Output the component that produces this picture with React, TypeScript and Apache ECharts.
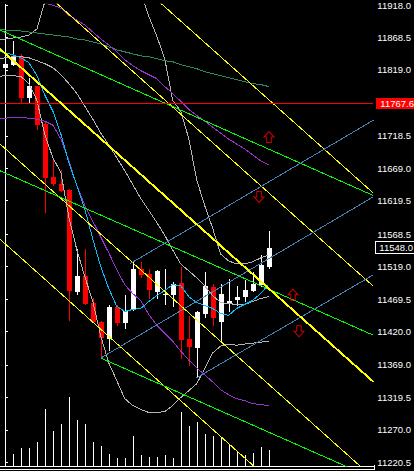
import { useEffect, useRef } from 'react';
import * as echarts from 'echarts';

// [open, close, low, high]
const candles: number[][] = [
  [11822.4, 11828.4, 11789.1, 11840.5],
  [11826.9, 11840.5, 11825.4, 11863.2],
  [11840.5, 11775.5, 11768.0, 11843.5],
  [11775.5, 11793.7, 11768.0, 11807.3],
  [11793.7, 11734.7, 11727.2, 11793.7],
  [11736.2, 11654.6, 11600.2, 11739.3],
  [11656.2, 11645.6, 11642.6, 11683.4],
  [11645.6, 11635.0, 11633.5, 11666.7],
  [11636.5, 11482.4, 11435.5, 11638.0],
  [11480.9, 11505.0, 11476.3, 11545.8],
  [11505.0, 11462.7, 11461.2, 11545.8],
  [11464.2, 11434.0, 11432.5, 11471.8],
  [11434.0, 11409.8, 11379.6, 11435.5],
  [11408.3, 11456.7, 11390.2, 11459.7],
  [11456.7, 11432.5, 11428.0, 11459.7],
  [11432.5, 11450.6, 11423.4, 11476.3],
  [11452.1, 11515.6, 11450.6, 11526.2],
  [11515.6, 11506.5, 11502.0, 11526.2],
  [11508.1, 11483.9, 11470.3, 11515.6],
  [11480.9, 11512.6, 11470.3, 11514.1],
  [11476.3, 11477.8, 11461.2, 11515.6],
  [11476.3, 11492.9, 11456.7, 11496.0],
  [11494.5, 11406.8, 11378.1, 11518.6],
  [11408.3, 11396.2, 11367.5, 11443.1],
  [11394.7, 11449.1, 11349.4, 11450.6],
  [11446.1, 11489.9, 11440.0, 11511.1],
  [11488.4, 11440.0, 11428.0, 11492.9],
  [11434.0, 11477.8, 11405.3, 11492.9],
  [11462.7, 11467.3, 11449.1, 11500.5],
  [11468.8, 11473.3, 11458.2, 11489.9],
  [11473.3, 11483.9, 11465.7, 11499.0],
  [11482.4, 11492.9, 11480.9, 11511.1],
  [11491.4, 11521.7, 11488.4, 11536.8],
  [11518.6, 11548.0, 11515.6, 11573.0],
];

const volumes = [170, 120, 180, 180, 240, 580, 350, 420, 700, 460, 420, 240, 200, 120, 80, 80, 300, 110, 90, 90, 110, 80, 540, 400, 440, 320, 300, 280, 210, 140, 110, 130, 190, 160];

// indicator curves: bar index -1 .. 33
const curveX = [-1, 0, 1, 2, 3, 4, 5, 6, 7, 8, 9, 10, 11, 12, 13, 14, 15, 16, 17, 18, 19, 20, 21, 22, 23, 24, 25, 26, 27, 28, 29, 30, 31, 32, 33];

const maFast = [11848.1, 11845.1, 11842.0, 11837.5, 11829.9, 11810.3, 11780.1, 11755.9, 11721.1, 11677.3, 11642.6, 11606.3, 11560.9, 11518.6, 11485.4, 11458.2, 11450.6, 11453.7, 11455.2, 11465.7, 11474.8, 11482.4, 11491.4, 11489.9, 11473.3, 11464.2, 11459.7, 11455.2, 11447.6, 11444.6, 11455.2, 11461.2, 11467.3, 11477.8, 11491.4];

const envLower = [11745.3, 11745.3, 11746.8, 11746.8, 11745.3, 11743.8, 11740.8, 11734.7, 11713.6, 11680.3, 11642.6, 11612.3, 11588.1, 11564.0, 11539.8, 11514.1, 11491.4, 11477.8, 11467.3, 11446.1, 11429.5, 11417.4, 11405.3, 11390.2, 11376.6, 11364.5, 11353.9, 11343.3, 11331.2, 11323.7, 11317.6, 11314.6, 11310.1, 11308.6, 11307.1];

const envUpper = [11956.9, 11946.3, 11938.7, 11932.7, 11926.7, 11923.6, 11920.6, 11917.6, 11913.1, 11902.5, 11894.9, 11887.4, 11876.8, 11866.2, 11857.1, 11846.6, 11834.5, 11825.4, 11817.8, 11811.8, 11805.8, 11793.7, 11783.1, 11771.0, 11758.9, 11749.8, 11740.8, 11731.7, 11722.6, 11713.6, 11706.0, 11698.5, 11689.4, 11680.3, 11674.3];

const maSlow = [11881.3, 11879.8, 11879.8, 11878.3, 11876.8, 11875.3, 11873.8, 11872.3, 11870.7, 11869.2, 11866.2, 11864.7, 11861.7, 11858.7, 11854.1, 11849.6, 11846.6, 11843.5, 11840.5, 11839.0, 11836.0, 11833.0, 11831.5, 11826.9, 11823.9, 11820.9, 11816.3, 11813.3, 11810.3, 11807.3, 11804.2, 11801.2, 11798.2, 11796.7, 11793.7];

const bandUpper = [11864.7, 11866.2, 11867.7, 11869.2, 11872.3, 11881.3, 11923.6, 11979.5, 12032.4, 12077.8, 12108.0, 12130.7, 12145.8, 12145.8, 12130.7, 12100.4, 12062.7, 12002.2, 11937.2, 11901.0, 11870.7, 11836.0, 11772.5, 11755.9, 11715.1, 11651.6, 11612.3, 11577.6, 11538.3, 11527.7, 11523.2, 11523.2, 11526.2, 11532.2, 11536.8];

const bandMiddle = [11834.5, 11837.5, 11839.0, 11839.0, 11837.5, 11833.0, 11828.4, 11822.4, 11811.8, 11798.2, 11783.1, 11763.4, 11743.8, 11722.6, 11704.5, 11684.9, 11665.2, 11644.1, 11622.9, 11604.8, 11586.6, 11567.0, 11544.3, 11523.2, 11512.6, 11502.0, 11489.9, 11474.8, 11464.2, 11462.7, 11461.2, 11461.2, 11465.7, 11470.3, 11473.3];

const bandLower = [11808.8, 11810.3, 11810.3, 11808.8, 11798.2, 11772.5, 11719.6, 11684.9, 11662.2, 11594.2, 11544.3, 11503.5, 11465.7, 11412.8, 11372.0, 11344.8, 11317.6, 11307.1, 11301.0, 11296.5, 11296.5, 11298.0, 11307.1, 11319.2, 11329.7, 11340.3, 11363.0, 11387.2, 11397.7, 11400.8, 11399.2, 11400.8, 11402.3, 11403.8, 11405.3];

const priceTicks = [11918.0, 11868.5, 11819.0, 11718.5, 11669.0, 11619.5, 11568.5, 11519.0, 11469.5, 11420.0, 11369.0, 11319.5, 11270.0, 11220.5];
const bidPrice = 11767.6;
const lastPrice = 11548.0;

// trend lines: [barIndex, price] end points
const yellowA = [[-0.625, 12139.7], [46.125, 11631.1]];
const yellowB = [[-0.625, 11997.7], [46.125, 11489.0]];
const yellowMain = [[-0.625, 11851.1], [46.125, 11343.3]];
const yellowE = [[-0.625, 11706.0], [46.125, 11196.7]];
const yellowD = [[-0.625, 11560.9], [46.125, 11051.7]];
const greenG1 = [[-0.625, 11879.8], [46.125, 11627.4]];
const greenG2 = [[-0.625, 11665.2], [46.125, 11414.4]];
const greenG3 = [[12, 11379.6], [46.125, 11196.0]];
const blueU1 = [[15.625, 11523.2], [46.125, 11742.3]];
const blueU2 = [[12, 11379.6], [46.125, 11625.5]];
const blueU3 = [[24, 11349.4], [46.125, 11506.5]];
const bidLineX = [-0.625, 46.125];

const arrowsUp = [[33.06, 11716.6], [36.06, 11476.3]];
const arrowsDown = [[31.81, 11625.2], [36.81, 11420.4]];

const FONT = '"Liberation Sans", Arial, sans-serif';

function trend(data: number[][], color: string, width = 1) {
  return {
    type: 'line',
    data,
    symbol: 'none',
    clip: true,
    silent: true,
    lineStyle: { color, width },
    z: 4,
  };
}

function curve(values: number[], color: string) {
  return {
    type: 'line',
    data: curveX.map((x, k) => [x, values[k]]),
    symbol: 'none',
    clip: true,
    silent: true,
    lineStyle: { color, width: 1 },
    z: 3,
  };
}

function priceBox(value: number, bg: string, border: string | null) {
  return {
    yAxis: value,
    lineStyle: { color: 'rgba(0,0,0,0)', width: 1, type: 'solid' },
    label: {
      show: true,
      position: 'end',
      distance: 3,
      formatter: (p: any) => Number(p.value).toFixed(1),
      color: '#ffffff',
      backgroundColor: bg,
      borderColor: border || bg,
      borderWidth: border ? 1 : 0,
      padding: border ? [1, 1, 1, 3] : [1, 2, 1, 4],
      fontSize: 9.5,
      lineHeight: 9,
      fontFamily: FONT,
    },
  };
}

export default function App() {
  const ref = useRef<HTMLDivElement>(null);

  useEffect(() => {
    document.body.style.margin = '0';
    document.body.style.background = '#000';
    if (!ref.current) return;
    const chart = echarts.init(ref.current, undefined, { renderer: 'svg' });

    const option: any = {
      animation: false,
      backgroundColor: '#000000',
      grid: { left: 0, top: 0, width: 374, height: 466 },
      xAxis: { type: 'value', min: -0.625, max: 46.125, show: false },
      yAxis: [
        {
          type: 'value',
          position: 'right',
          min: 11214.9,
          max: 11919.1,
          splitLine: { show: false },
          axisLine: { show: true, lineStyle: { color: '#ffffff', width: 1 } },
          axisTick: { show: true, length: 3, customValues: priceTicks, lineStyle: { color: '#ffffff' } },
          axisLabel: {
            show: true,
            customValues: priceTicks,
            margin: 4,
            color: '#ffffff',
            fontSize: 9.5,
            fontFamily: FONT,
            formatter: (v: number) => Number(v).toFixed(1),
          },
        },
        { type: 'value', min: 0, max: 4660, show: false },
      ],
      graphic: [
        { type: 'line', shape: { x1: 0, y1: 466.5, x2: 375, y2: 466.5 }, style: { stroke: '#ffffff', lineWidth: 1 } },
        { type: 'line', shape: { x1: 0, y1: 469.5, x2: 375, y2: 469.5 }, style: { stroke: '#ffffff', lineWidth: 1 } },
        { type: 'line', shape: { x1: 374.5, y1: 465, x2: 374.5, y2: 470 }, style: { stroke: '#ffffff', lineWidth: 1 } },
      ],
      series: [
        {
          type: 'custom',
          yAxisIndex: 1,
          silent: true,
          data: volumes.map((v, i) => [i, v]),
          encode: { x: 0, y: 1 },
          renderItem: (_p: any, api: any) => {
            const base = api.coord([api.value(0), 0]);
            const top = api.coord([api.value(0), api.value(1)]);
            const x = Math.round(base[0]);
            const y0 = Math.round(top[1]);
            return {
              type: 'rect',
              shape: { x, y: y0, width: 1, height: Math.round(base[1]) - y0 },
              style: { fill: '#ffffff' },
            };
          },
          z: 1,
        },
        {
          type: 'custom',
          silent: true,
          data: candles.map((c, i) => [i, c[0], c[1], c[2], c[3]]),
          encode: { x: 0, y: [1, 2, 3, 4] },
          renderItem: (_p: any, api: any) => {
            const i = api.value(0);
            const o = api.value(1);
            const c = api.value(2);
            const pO = api.coord([i, o]);
            const pC = api.coord([i, c]);
            const pL = api.coord([i, api.value(3)]);
            const pH = api.coord([i, api.value(4)]);
            const cx = Math.round(pO[0]);
            const color = c >= o ? '#ffffff' : '#ff0000';
            const top = Math.round(Math.min(pO[1], pC[1]));
            const bot = Math.round(Math.max(pO[1], pC[1]));
            const hy = Math.round(pH[1]);
            const ly = Math.round(pL[1]);
            return {
              type: 'group',
              children: [
                { type: 'rect', shape: { x: cx, y: hy, width: 1, height: Math.max(1, ly - hy) }, style: { fill: color } },
                { type: 'rect', shape: { x: cx - 2, y: top, width: 5, height: Math.max(1, bot - top) }, style: { fill: color } },
              ],
            };
          },
          markLine: {
            silent: true,
            symbol: 'none',
            animation: false,
            data: [priceBox(bidPrice, '#ff0000', null), priceBox(lastPrice, '#000000', '#ffffff')],
          },
          z: 2,
        },
        curve(bandUpper, '#b4b4b4'),
        curve(bandMiddle, '#b4b4b4'),
        curve(bandLower, '#b4b4b4'),
        curve(maSlow, '#2e8b57'),
        curve(envUpper, '#9932cc'),
        curve(envLower, '#9932cc'),
        curve(maFast, '#00bfff'),
        trend(yellowA, '#ffff00'),
        trend(yellowB, '#ffff00'),
        trend(yellowE, '#ffff00'),
        trend(yellowD, '#ffff00'),
        trend(greenG1, '#00ff00'),
        trend(greenG2, '#00ff00'),
        trend(greenG3, '#00ff00'),
        trend(blueU1, '#4682b4'),
        trend(blueU2, '#4682b4'),
        trend(blueU3, '#4682b4'),
        trend(bidLineX.map((x) => [x, bidPrice]), '#ff0000'),
        trend(yellowMain, '#ffff00', 2),
        {
          type: 'scatter',
          silent: true,
          data: arrowsUp,
          symbol: 'path://M5.5,0 L11,6 L8,6 L8,12 L3,12 L3,6 L0,6 Z',
          symbolSize: [10, 11],
          itemStyle: { color: 'rgba(0,0,0,0)', borderColor: '#ff0000', borderWidth: 1 },
          z: 5,
        },
        {
          type: 'scatter',
          silent: true,
          data: arrowsDown,
          symbol: 'path://M3,0 L8,0 L8,6 L11,6 L5.5,12 L0,6 L3,6 Z',
          symbolSize: [10, 11],
          itemStyle: { color: 'rgba(0,0,0,0)', borderColor: '#ff0000', borderWidth: 1 },
          z: 5,
        },
      ],
    };

    chart.setOption(option);
    return () => chart.dispose();
  }, []);

  return (
    <>
      <style>{'.mt-chart svg path, .mt-chart svg line, .mt-chart svg rect, .mt-chart svg polyline { shape-rendering: crispEdges; }'}</style>
      <div className="mt-chart" ref={ref} style={{ width: 414, height: 471, background: '#000' }} />
    </>
  );
}
